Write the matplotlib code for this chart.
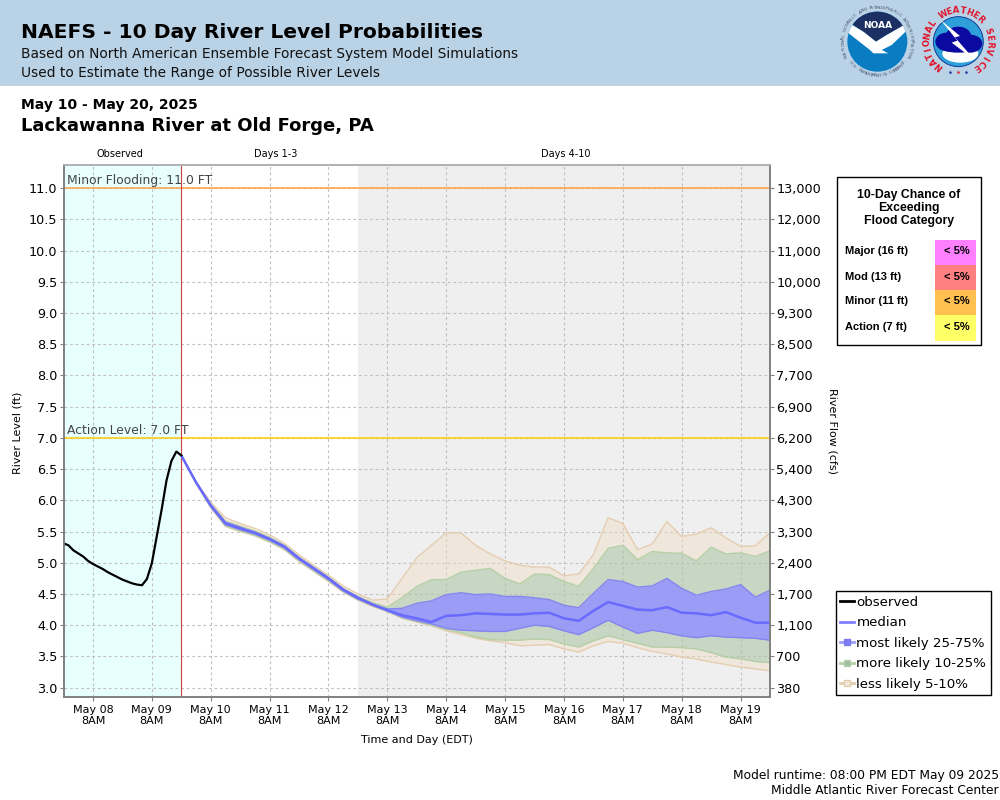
import matplotlib
matplotlib.use("Agg")
import matplotlib.pyplot as plt
import matplotlib.dates as mdates
from matplotlib.lines import Line2D
from matplotlib.patches import Circle, Ellipse, Polygon, Rectangle
import numpy as np
import pandas as pd

plt.rcParams["font.family"] = "DejaVu Sans"

# ── DATA ─────────────────────────────────────────────────────────────────────
obs_level = [5.31, 5.28, 5.20, 5.15, 5.10, 5.03, 4.98, 4.94, 4.90, 4.85, 4.81, 4.77, 4.73,
             4.70, 4.67, 4.65, 4.64, 4.74, 4.99, 5.42, 5.85, 6.32, 6.63, 6.78, 6.72]

median = [6.72, 6.29, 5.92, 5.63, 5.55, 5.48, 5.38, 5.26, 5.07, 4.91, 4.75, 4.57, 4.44, 4.33,
          4.24, 4.16, 4.11, 4.05, 4.15, 4.16, 4.19, 4.18, 4.17, 4.17, 4.19, 4.20, 4.11,
          4.07, 4.23, 4.37, 4.31, 4.25, 4.24, 4.29, 4.20, 4.19, 4.16, 4.21, 4.12, 4.04, 4.04]
p75 = [6.72, 6.29, 5.93, 5.65, 5.57, 5.49, 5.39, 5.27, 5.08, 4.92, 4.76, 4.58, 4.45, 4.34,
       4.26, 4.27, 4.35, 4.39, 4.49, 4.52, 4.49, 4.50, 4.46, 4.46, 4.44, 4.41, 4.32,
       4.28, 4.51, 4.73, 4.70, 4.61, 4.63, 4.75, 4.59, 4.48, 4.54, 4.58, 4.65, 4.45, 4.56]
p25 = [6.72, 6.28, 5.90, 5.61, 5.53, 5.46, 5.36, 5.24, 5.05, 4.89, 4.73, 4.55, 4.42, 4.32,
       4.23, 4.13, 4.07, 4.02, 3.95, 3.92, 3.91, 3.90, 3.90, 3.95, 4.00, 3.98, 3.91,
       3.85, 3.96, 4.08, 3.97, 3.87, 3.92, 3.88, 3.83, 3.80, 3.83, 3.81, 3.80, 3.79, 3.76]
p90 = [6.72, 6.29, 5.94, 5.67, 5.59, 5.51, 5.41, 5.28, 5.09, 4.93, 4.77, 4.59, 4.46, 4.36,
       4.29, 4.44, 4.62, 4.73, 4.73, 4.85, 4.88, 4.91, 4.75, 4.66, 4.82, 4.81, 4.70,
       4.62, 4.91, 5.23, 5.28, 5.05, 5.18, 5.16, 5.15, 5.03, 5.25, 5.14, 5.16, 5.10, 5.19]
p10 = [6.72, 6.28, 5.89, 5.59, 5.51, 5.44, 5.34, 5.22, 5.03, 4.87, 4.71, 4.54, 4.41, 4.31,
       4.22, 4.12, 4.06, 4.00, 3.93, 3.88, 3.81, 3.77, 3.76, 3.76, 3.78, 3.77, 3.70,
       3.65, 3.75, 3.83, 3.77, 3.71, 3.65, 3.65, 3.64, 3.62, 3.56, 3.49, 3.46, 3.42, 3.40]
p95 = [6.72, 6.30, 5.97, 5.72, 5.63, 5.55, 5.45, 5.31, 5.13, 4.96, 4.80, 4.63, 4.50, 4.40,
       4.42, 4.75, 5.08, 5.28, 5.48, 5.48, 5.28, 5.14, 5.03, 4.96, 4.93, 4.93, 4.79,
       4.82, 5.13, 5.72, 5.63, 5.21, 5.30, 5.66, 5.42, 5.46, 5.56, 5.40, 5.26, 5.27, 5.48]
p5 = [6.72, 6.28, 5.88, 5.58, 5.50, 5.43, 5.33, 5.21, 5.02, 4.86, 4.70, 4.53, 4.40, 4.30,
      4.22, 4.11, 4.05, 3.99, 3.91, 3.85, 3.79, 3.75, 3.72, 3.67, 3.68, 3.69, 3.62,
      3.57, 3.67, 3.74, 3.71, 3.64, 3.58, 3.54, 3.49, 3.46, 3.41, 3.37, 3.33, 3.30, 3.27]

level_ticks = [3.0, 3.5, 4.0, 4.5, 5.0, 5.5, 6.0, 6.5, 7.0, 7.5, 8.0, 8.5, 9.0, 9.5, 10.0, 10.5, 11.0]
flow_labels = ["380", "700", "1,100", "1,700", "2,400", "3,300", "4,300", "5,400", "6,200",
               "6,900", "7,700", "8,500", "9,300", "10,000", "11,000", "12,000", "13,000"]

flood_names = ["Major (16 ft)", "Mod (13 ft)", "Minor (11 ft)", "Action (7 ft)"]
flood_chance = ["< 5%", "< 5%", "< 5%", "< 5%"]
flood_colors = ["#ff80ff", "#ff8080", "#ffc050", "#ffff66"]

obs_times = pd.date_range("2025-05-07 20:00", periods=len(obs_level), freq="2h")
fc_times = pd.date_range("2025-05-09 20:00", periods=len(median), freq="6h")

# ── FIGURE + OVERLAY IN PIXELS ───────────────────────────────────────────────
fig = plt.figure(figsize=(10, 8), dpi=100)
page = fig.add_axes([0, 0, 1, 1], zorder=0)
page.set_xlim(0, 1000)
page.set_ylim(800, 0)
page.axis("off")

page.add_patch(Rectangle((0, 0), 1000, 86, color="#bad2e5", lw=0))
page.text(21, 33, "NAEFS - 10 Day River Level Probabilities", fontsize=14.6, fontweight="bold", va="center")
page.text(21, 54, "Based on North American Ensemble Forecast System Model Simulations", fontsize=9.9, va="center", color="#111111")
page.text(21, 73, "Used to Estimate the Range of Possible River Levels", fontsize=9.9, va="center", color="#111111")
page.text(21, 105, "May 10 - May 20, 2025", fontsize=10, fontweight="bold", va="center")
page.text(21, 126, "Lackawanna River at Old Forge, PA", fontsize=12.95, fontweight="bold", va="center")
page.text(120, 154, "Observed", fontsize=7, ha="center", va="center")
page.text(276, 154, "Days 1-3", fontsize=7, ha="center", va="center")
page.text(566, 154, "Days 4-10", fontsize=7, ha="center", va="center")
page.text(417, 740, "Time and Day (EDT)", fontsize=8, ha="center", va="center")
page.text(18, 433, "River Level (ft)", fontsize=8, rotation=90, ha="center", va="center")
page.text(832, 431, "River Flow (cfs)", fontsize=8, rotation=-90, ha="center", va="center")
page.text(999, 775, "Model runtime: 08:00 PM EDT May 09 2025", fontsize=8.85, ha="right", va="center")
page.text(999, 791, "Middle Atlantic River Forecast Center", fontsize=8.85, ha="right", va="center")


# ── LOGOS ────────────────────────────────────────────────────────────────────
def ring_text(text, cx, cy, r, start, stop, size, color, flip=False, weight="normal"):
    for ch, ang in zip(text, np.linspace(start, stop, len(text))):
        rad = np.radians(ang)
        rot = 180 - ang if flip else -ang
        page.text(cx + r * np.sin(rad), cy - r * np.cos(rad), ch, fontsize=size, color=color,
                  rotation=rot, ha="center", va="center", fontweight=weight,
                  rotation_mode="anchor")


def zx(v):
    return 820 + v / 3


def zy(v):
    return v / 3


noaa_x, noaa_y = zx(172), zy(125)
disc = Circle((noaa_x, noaa_y), 30, color="#0a7dc2", lw=0)
page.add_patch(disc)
navy = Polygon([(zx(a), zy(b)) for a, b in [(70, 20), (275, 20), (275, 65), (200, 105), (168, 125),
                                            (130, 95), (80, 62)]], color="#1c3063", lw=0)
page.add_patch(navy)
navy.set_clip_path(disc)
bird = Polygon([(zx(a), zy(b)) for a, b in [(80, 65), (130, 95), (168, 125), (200, 105), (275, 62),
                                            (262, 90), (215, 135), (185, 150), (205, 160), (160, 160),
                                            (150, 150), (118, 125), (80, 95)]], color="white", lw=0)
page.add_patch(bird)
bird.set_clip_path(disc)
page.text(noaa_x, zy(75), "NOAA", fontsize=6.5, fontweight="bold", color="white", ha="center", va="center")
ring_text("NATIONAL OCEANIC AND ATMOSPHERIC ADMINISTRATION", noaa_x, noaa_y, 34, -115, 115, 3.2, "#44506a")
ring_text("U.S. DEPARTMENT OF COMMERCE", noaa_x, noaa_y, 34, 232, 128, 3.2, "#44506a", flip=True)

nws_x, nws_y = zx(415), zy(125)
nws_disc = Circle((nws_x, nws_y), 25, color="#2e9fd8", ec="#0a2a90", lw=0.6)
page.add_patch(nws_disc)
lower = Ellipse((nws_x + 2, nws_y + 12), 36, 18, color="white", lw=0)
page.add_patch(lower)
lower.set_clip_path(nws_disc)
for dx, dy, w, h in [(-12, 0, 22, 18), (0, -5, 26, 20), (12, 2, 24, 18), (0, 5, 40, 12)]:
    blob = Ellipse((nws_x + dx, nws_y + dy), w, h, color="#0a0aa0", lw=0)
    page.add_patch(blob)
    blob.set_clip_path(nws_disc)
page.add_patch(Polygon([(zx(a), zy(b)) for a, b in [(362, 60), (420, 108), (405, 112), (462, 178),
                                                    (395, 128), (412, 122)]], color="white", lw=0))
ring_text("NATIONAL WEATHER SERVICE", nws_x, nws_y, 31, -141, 145, 6, "#e01028", weight="bold")
for off, col in [(-8, "#0a2a90"), (0, "#e01028"), (8, "#0a2a90")]:
    page.plot(nws_x + off, nws_y + 30, marker="*", ms=3, color=col, mew=0)

# ── FLOOD PANEL ──────────────────────────────────────────────────────────────
page.add_patch(Rectangle((836.5, 176.5), 144, 168.5, fc="white", ec="black", lw=1))
panel_font = ["Liberation Sans", "DejaVu Sans"]
for row, txt in enumerate(["10-Day Chance of", "Exceeding", "Flood Category"]):
    page.text(909, 195 + row * 13, txt, fontsize=8.8, fontweight="bold", family=panel_font, ha="center", va="center")
for i, (name, chance, col) in enumerate(zip(flood_names, flood_chance, flood_colors)):
    top = 240 + i * 25
    page.add_patch(Rectangle((935, top), 41, 26 if i == 3 else 25, color=col, lw=0))
    page.text(845, top + 11.5, name, fontsize=8, fontweight="bold", family=panel_font, va="center")
    page.text(970, top + 11.5, chance, fontsize=8, fontweight="bold", family=panel_font, ha="right", va="center")

# ── CHART ────────────────────────────────────────────────────────────────────
ax = fig.add_axes([63.5 / 1000, 103 / 800, 706.5 / 1000, 532 / 800], zorder=2)
ax.set_xlim(pd.Timestamp("2025-05-07 20:00"), pd.Timestamp("2025-05-19 20:00"))
ax.set_ylim(2.85, 11.37)

ax.axvspan(pd.Timestamp("2025-05-07 20:00"), pd.Timestamp("2025-05-09 20:00"), color="#e8ffff", lw=0, zorder=0)
ax.axvspan(pd.Timestamp("2025-05-12 20:00"), pd.Timestamp("2025-05-19 20:00"), color="#efefef", lw=0, zorder=0)
ax.set_axisbelow(True)
ax.grid(True, color="#c0c0c0", lw=0.8, linestyle=(0, (2.5, 2.5)))

ax.fill_between(fc_times, p5, p95, color="#f0d9c0", alpha=0.4, lw=0, zorder=2)
ax.fill_between(fc_times, p10, p90, color="#8ebea0", alpha=0.4, lw=0, zorder=2.1)
ax.fill_between(fc_times, p25, p75, color="#9292ff", alpha=0.85, lw=0, zorder=2.2)
for series, col, z in [(p5, "#e5cdb0", 2.3), (p95, "#e5cdb0", 2.3), (p10, "#b4d0a4", 2.4), (p90, "#b4d0a4", 2.4),
                       (p25, "#8585f0", 2.5), (p75, "#8585f0", 2.5)]:
    ax.plot(fc_times, series, color=col, lw=1, zorder=z)
ax.plot(fc_times, median, color="#6a6aff", lw=1.8, zorder=3)
ax.plot(obs_times, obs_level, color="black", lw=1.6, zorder=3.1)

ax.axhline(11.0, color="#ffa040", lw=1.1, zorder=1.5)
ax.axhline(7.0, color="#ffcc00", lw=1.1, zorder=1.5)
ax.axvline(pd.Timestamp("2025-05-09 20:00"), color="#d04040", lw=0.8, zorder=1.6)
ax.annotate("Minor Flooding: 11.0 FT", (pd.Timestamp("2025-05-07 20:00"), 11.0), xytext=(2.5, 0.5),
            textcoords="offset points", fontsize=8.9, color="#444444", va="bottom")
ax.annotate("Action Level: 7.0 FT", (pd.Timestamp("2025-05-07 20:00"), 7.0), xytext=(2.5, 0.5),
            textcoords="offset points", fontsize=8.9, color="#444444", va="bottom")

ax.xaxis.set_major_locator(mdates.HourLocator(byhour=[8]))
ax.xaxis.set_major_formatter(mdates.DateFormatter("%b %d\n%-I%p"))
ax.set_yticks(level_ticks)
ax.set_yticklabels([f"{v:.1f}" for v in level_ticks])
ax.tick_params(axis="x", labelsize=8, color="#808080", length=3, pad=2.5)
ax.tick_params(axis="y", labelsize=9.2, color="#808080", length=3, pad=1.5)

ax2 = ax.twinx()
ax2.set_ylim(ax.get_ylim())
ax2.set_yticks(level_ticks)
ax2.set_yticklabels(flow_labels)
ax2.tick_params(axis="y", labelsize=9.2, color="#808080", length=3, pad=1.5)
for a in (ax, ax2):
    for sp in a.spines.values():
        sp.set_color("#808080")
        sp.set_linewidth(1.2)
    a.spines["top"].set_color("#b0b0b0")

# ── LEGEND ───────────────────────────────────────────────────────────────────
handles = [
    Line2D([], [], color="black", lw=2),
    Line2D([], [], color="#8080ff", lw=2),
    Line2D([], [], color="#9c9cfb", lw=2, marker="s", ms=5, mfc="#7c7cf0", mec="#7c7cf0"),
    Line2D([], [], color="#b4d0a4", lw=2, marker="s", ms=5, mfc="#a0bca8", mec="#b4d0a4"),
    Line2D([], [], color="#e5cdb0", lw=2, marker="s", ms=5, mfc="#f0e6da", mec="#e5cdb0"),
]
leg = fig.legend(handles, ["observed", "median", "most likely 25-75%", "more likely 10-25%", "less likely 5-10%"],
                 loc="upper left", bbox_to_anchor=(835.5 / 1000, 1 - 591 / 800), fontsize=9.6, frameon=True,
                 fancybox=False, framealpha=1, edgecolor="black", borderaxespad=0, borderpad=0.36,
                 labelspacing=0.56, handlelength=1.0, handletextpad=0.2)
leg.get_frame().set_linewidth(1)

fig.savefig("out.png", dpi=100)
